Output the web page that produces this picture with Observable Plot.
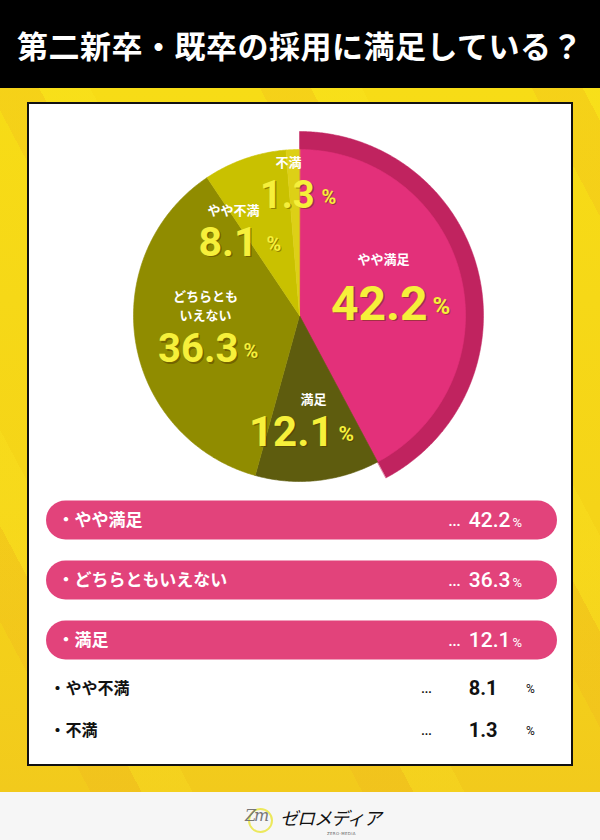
<!DOCTYPE html>
<html><head><meta charset="utf-8">
<script src="https://cdn.jsdelivr.net/npm/d3@7"></script>
<script src="https://cdn.jsdelivr.net/npm/@observablehq/plot@0.6"></script>
<style>
html,body{margin:0;padding:0;width:600px;height:840px;overflow:hidden;font-family:"Noto Sans CJK JP","Noto Sans",sans-serif;background:#fff;}
#title{position:absolute;left:0;top:0;width:600px;height:88px;background:#000;color:#fff;font-weight:700;font-size:31px;letter-spacing:0.5px;display:flex;align-items:center;justify-content:center;}
#bg{position:absolute;left:0;top:88px;width:600px;height:704px;
 background:
  repeating-linear-gradient(62deg, rgba(240,170,30,0.0) 0 80px, rgba(238,172,32,0.22) 80px 125px, rgba(255,240,40,0.18) 125px 170px, rgba(240,170,30,0.0) 170px 240px),
  linear-gradient(180deg,#f7dc16 0%,#f5d418 60%,#f2ca1c 100%);}
#panel{position:absolute;left:27px;top:102px;width:542px;height:660px;border:2px solid #111;background:#fff;}
#footer{position:absolute;left:0;top:792px;width:600px;height:48px;background:#f6f6f6;}
#logoCircle{position:absolute;left:248px;top:808px;width:21px;height:21px;border:2px solid #ece85c;border-radius:50%;}
#logoZm{position:absolute;left:245px;top:806px;font-family:"DejaVu Serif",serif;font-style:italic;font-size:16px;color:#777;letter-spacing:-2px;}
#logoText{position:absolute;left:280px;top:804px;font-size:18px;font-style:italic;color:#111;letter-spacing:-1px;font-weight:400;}
#logoSub{position:absolute;left:327px;top:831px;font-size:4px;color:#666;letter-spacing:0.3px;font-family:"DejaVu Sans",sans-serif;}
</style></head>
<body>
<div id="title">第二新卒・既卒の採用に満足している？</div>
<div id="bg"></div>
<div id="panel"></div>
<div id="footer"></div>
<div id="logoCircle"></div>
<div id="logoZm">Zm</div>
<div id="logoText">ゼロメディア</div>
<div id="logoSub">ZERO-MEDIA</div>
<script>
// ---- data ----
const categories = ["やや満足", "満足", "どちらともいえない", "やや不満", "不満"];
const values = [42.2, 12.1, 36.3, 8.1, 1.3];
const pieNames = ["やや満足", "満足", "どちらとも\nいえない", "やや不満", "不満"];

// ---- styles / layout ----
const sliceColors = ["#e3307a", "#5e5c0e", "#908c00", "#c9c100", "#ddd016"];
const ringColor = "#c0235f";
const pillColor = "#e2437b";
const numColor = "#f6f03a";
const cx = 299, cy = 315, R = 166, ROuter = 184;
// label anchors (page px): name center, number end, number middle y, font size
const labelLayout = [
  {namePos: [383, 257], numEnd: 427, numY: 304, size: 48, pct: 24, gap: 5},
  {namePos: [313, 397], numEnd: 333, numY: 432, size: 42, pct: 21, gap: 5},
  {namePos: [205, 304], numEnd: 238, numY: 349, size: 40, pct: 20, gap: 5},
  {namePos: [233, 208], numEnd: 257, numY: 242, size: 41, pct: 20, gap: 9},
  {namePos: [288, 160], numEnd: 314, numY: 195, size: 38, pct: 20, gap: 7}
];
const rowY = [520, 580, 640, 688, 730];

const data = categories.map((c, i) => ({cat: c, value: values[i], name: pieNames[i], i}));
const fmt = d3.format(".1f");

const arcs = d3.pie().sort(null).value(d => d.value)(data);
function arcPoints(key, a0, a1, radius) {
  const pts = [{key, x: cx, y: cy}];
  const n = Math.max(2, Math.ceil((a1 - a0) / (Math.PI / 360)));
  for (let k = 0; k <= n; k++) {
    const a = a0 + (a1 - a0) * k / n;
    pts.push({key, x: cx + radius * Math.sin(a), y: cy - radius * Math.cos(a)});
  }
  return pts;
}
const slicePts = arcs.flatMap(a => arcPoints(a.data.cat, a.startAngle, a.endAngle, R));
const ringPts = arcPoints("ring", arcs[0].startAngle, arcs[0].endAngle, ROuter);

const labels = data.map((d, i) => ({...d, ...labelLayout[i]}));

// legend order: by value desc
const legend = [...data].sort((a, b) => b.value - a.value).map((d, k) => ({...d, y: rowY[k], k}));
const pinkRows = legend.filter(d => d.k < 3);
const plainRows = legend.filter(d => d.k >= 3);

const JP = "'Noto Sans CJK JP', 'Noto Sans', sans-serif";
const NUM = "Roboto, 'Liberation Sans', sans-serif";
const NARROW = "'Liberation Sans Narrow', 'Roboto', 'Liberation Sans', sans-serif";

const chart = Plot.plot({
  width: 542, height: 660, margin: 0,
  x: {domain: [29, 571], range: [0, 542], axis: null},
  y: {domain: [104, 764], range: [0, 660], axis: null},
  color: {domain: categories, range: sliceColors},
  style: {background: "transparent", fontFamily: JP, overflow: "visible"},
  marks: [
    // pie
    Plot.line(ringPts, {x: "x", y: "y", fill: ringColor, stroke: ringColor, strokeWidth: 0.5, curve: "linear-closed"}),
    Plot.line(slicePts, {x: "x", y: "y", z: "key", fill: "key", stroke: "key", strokeWidth: 0.6, curve: "linear-closed"}),
    // pie labels
    Plot.text(labels, {x: d => d.namePos[0], y: d => d.namePos[1], text: "name", fill: "white", fontSize: 13, fontWeight: 700, lineHeight: 1.45, fontFamily: JP}),
    Plot.text(labels, {x: d => d.numEnd, y: "numY", text: d => fmt(d.value), textAnchor: "end", dx: 1.5, dy: 1.5, fill: "rgba(80,50,0,0.45)", fontSize: d => d.size, fontWeight: 700, fontFamily: NUM}),
    Plot.text(labels, {x: d => d.numEnd, y: "numY", text: d => fmt(d.value), textAnchor: "end", fill: numColor, fontSize: d => d.size, fontWeight: 700, fontFamily: NUM}),
    Plot.text(labels, {x: d => d.numEnd + d.gap, y: d => d.numY + 2, text: () => "%", textAnchor: "start", dx: 1, dy: 1, fill: "rgba(80,50,0,0.45)", fontSize: d => d.pct, fontWeight: 700, fontFamily: NUM}),
    Plot.text(labels, {x: d => d.numEnd + d.gap, y: d => d.numY + 2, text: () => "%", textAnchor: "start", fill: numColor, fontSize: d => d.pct, fontWeight: 700, fontFamily: NUM}),
    // legend pills
    Plot.rect(pinkRows, {x1: () => 46, x2: () => 557, y1: d => d.y - 19.5, y2: d => d.y + 19.5, rx: 19.5, fill: pillColor}),
    Plot.text(pinkRows, {x: () => 57, y: "y", text: d => "・" + d.cat, textAnchor: "start", fill: "white", fontSize: 17, fontWeight: 700, fontFamily: JP}),
    Plot.text(pinkRows, {x: () => 454, y: d => d.y + 1, text: () => "...", fill: "white", fontSize: 14, fontWeight: 700, fontFamily: NUM}),
    Plot.text(pinkRows, {x: () => 510, y: "y", text: d => fmt(d.value), textAnchor: "end", fill: "white", fontSize: 21, fontWeight: 500, fontFamily: NARROW}),
    Plot.text(pinkRows, {x: () => 512, y: d => d.y + 2, text: () => "%", textAnchor: "start", fill: "white", fontSize: 13, fontFamily: NARROW}),
    // plain legend rows
    Plot.text(plainRows, {x: () => 49, y: "y", text: d => "・" + d.cat, textAnchor: "start", fill: "#111", fontSize: 16, fontWeight: 700, fontFamily: JP}),
    Plot.text(plainRows, {x: () => 426, y: d => d.y + 1, text: () => "...", fill: "#111", fontSize: 12, fontWeight: 700, fontFamily: NUM}),
    Plot.text(plainRows, {x: () => 497, y: "y", text: d => fmt(d.value), textAnchor: "end", fill: "#111", fontSize: 20, fontWeight: 700, fontFamily: NARROW}),
    Plot.text(plainRows, {x: () => 530, y: d => d.y + 1, text: () => "%", fill: "#111", fontSize: 12, fontFamily: NARROW})
  ]
});
document.getElementById("panel").appendChild(chart);
</script>
</body></html>
